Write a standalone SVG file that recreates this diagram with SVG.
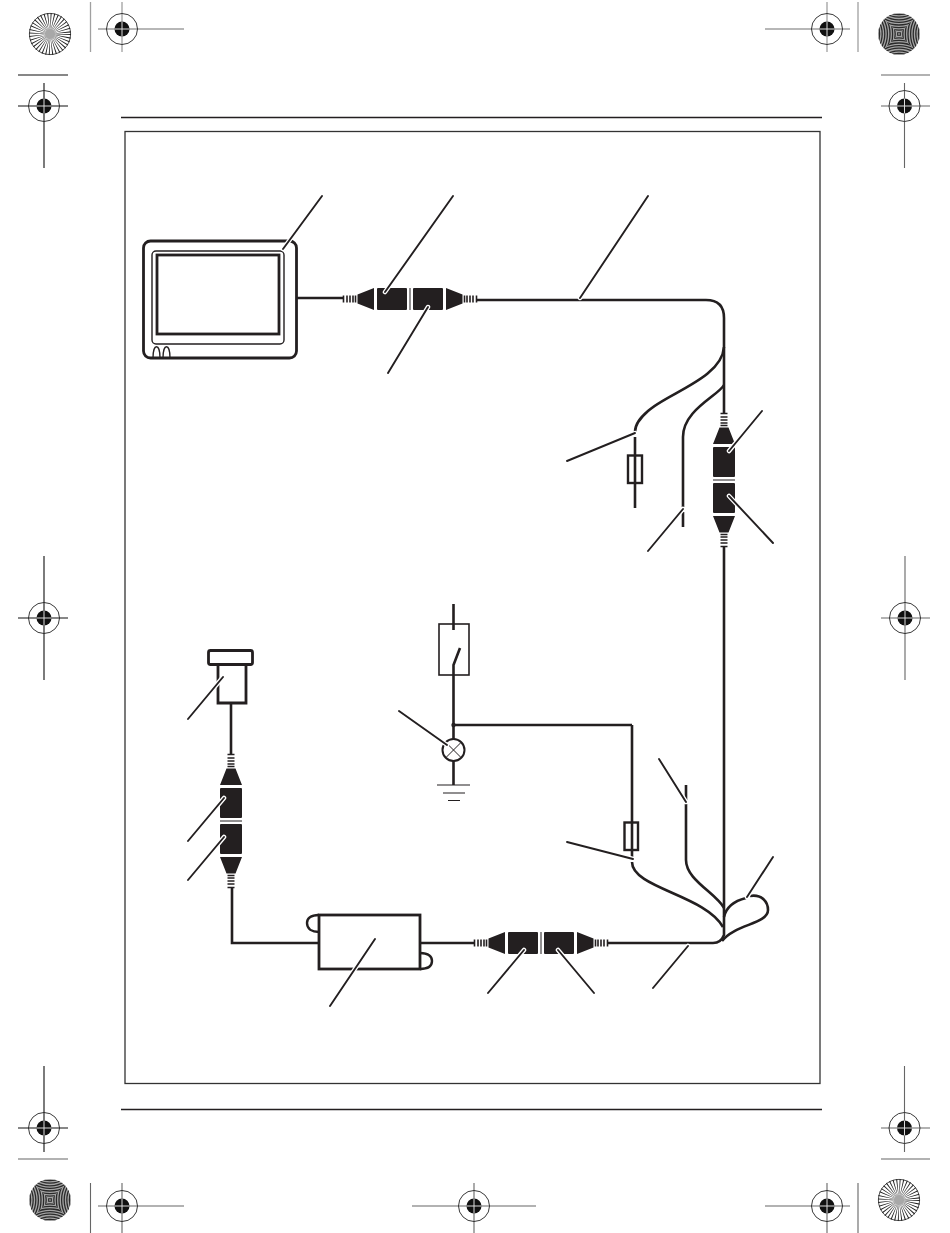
<svg xmlns="http://www.w3.org/2000/svg" xmlns:xlink="http://www.w3.org/1999/xlink" width="950" height="1233" viewBox="0 0 950 1233">
<style>
.w{fill:none;stroke:#231f20;stroke-width:2.600}
.k{fill:#231f20}
.o{fill:#fff;stroke:#231f20;stroke-width:2.800}
.halo{fill:none;stroke:#fff;stroke-width:4.500;stroke-linecap:round}
.ink{fill:none;stroke:#231f20;stroke-width:1.900;stroke-linecap:round}
.r{fill:none;stroke:#231f20;stroke-width:1.400}
.g{stroke:#a0a0a0;stroke-width:1.300;fill:none}
.b{stroke:#111;stroke-width:1.100;fill:none}
.d{stroke:#666;stroke-width:1.100;fill:none}
</style>
<defs>
<g id="ring"><circle r="15.500" fill="none" stroke="#222" stroke-width="0.900"/><circle r="7.500" fill="#111"/><path d="M-7.500 0H7.500M0-7.500V7.500" stroke="#ddd" stroke-width="1"/></g>
<g id="star"><circle r="21" fill="#fff"/><circle r="10.500" fill="none" stroke="#222" stroke-width="21" stroke-dasharray="0.550 1.283"/><circle r="5" fill="#a8a8a8"/><circle r="20.600" fill="none" stroke="#222" stroke-width="0.800"/></g>
<clipPath id="cT"><path d="M0 0L-21-21H21Z"/></clipPath>
<clipPath id="cB"><path d="M0 0L-21 21H21Z"/></clipPath>
<clipPath id="cL"><path d="M0 0L-21-21V21Z"/></clipPath>
<clipPath id="cR"><path d="M0 0L21-21V21Z"/></clipPath>
<clipPath id="cD"><circle r="21"/></clipPath>
<g id="arcs" fill="none" stroke="#2a2a2a" stroke-width="1.300"><circle r="20"/><circle r="22.600"/><circle r="25.200"/><circle r="27.800"/><circle r="30.400"/><circle r="33"/><circle r="35.600"/><circle r="38.200"/><circle r="40.800"/><circle r="43.400"/><circle r="46"/><circle r="48.600"/><circle r="51.200"/><circle r="53.800"/><circle r="56.400"/><circle r="59"/><circle r="61.600"/><circle r="64.200"/></g>
<g id="moire"><g clip-path="url(#cD)"><circle r="21" fill="#a4a4a4"/>
<g clip-path="url(#cT)"><use xlink:href="#arcs" href="#arcs" y="-42"/></g>
<g clip-path="url(#cB)"><use xlink:href="#arcs" href="#arcs" y="42"/></g>
<g clip-path="url(#cL)"><use xlink:href="#arcs" href="#arcs" x="-42"/></g>
<g clip-path="url(#cR)"><use xlink:href="#arcs" href="#arcs" x="42"/></g></g></g>
<g id="conn"><path class="k" d="M-52.500-4.500-36-11V11L-52.500 4.500ZM52.500-4.500 36-11V11L52.500 4.500Z"/><rect class="k" x="-33" y="-11" width="30" height="22" rx="1"/><rect class="k" x="3" y="-11" width="30" height="22" rx="1"/><path stroke="#231f20" stroke-width="1" d="M0-11V11"/><path fill="none" stroke="#231f20" stroke-width="1.600" d="M-66.500-3.500V3.500M-63-3.500V3.500M-60-3.500V3.500M-57-3.500V3.500M-54.500-3.500V3.500M66.500-3.500V3.500M63-3.500V3.500M60-3.500V3.500M57-3.500V3.500M54.500-3.500V3.500"/></g>
<path id="lead" d="M322 196 283 249M453 196 385 292M648 196 580 298M388 373 428 307M567 461 635 433M648 551 683 509M762 411 729 451M773 543 729 496M399 711 447 745M567 842 633 859M659 759 686 802M773 857 747 897M653 988 688 946M594 993 558 950M488 993 524 950M330 1006 375 939M188 719 223 677M188 841 224 798M188 880 224 837"/>
</defs>

<g id="printer-marks">
<use href="#star" x="50" y="34"/>
<use href="#moire" x="899" y="34"/>
<use href="#moire" x="50" y="1200"/>
<use href="#star" x="899" y="1200"/>
<path class="g" d="M90.500 2V52M98 29H184M122 2V52M765 29H850M827 2V52M858 2V52"/>
<path class="b" d="M18 75H68M18 106H68M44 83V168M18 618H68M44 556V680M18 1128H68M44 1066V1152"/>
<path class="d" d="M881 75H930M881 106H930M904.500 83V168M881 618H930M905 556V680M881 1128H930M904.500 1066V1152M18 1159H68M881 1159H930"/>
<path class="d" d="M90.500 1183V1233M98 1206H184M122 1183V1233M412 1206H536M474 1183V1233M765 1206H850M827 1183V1233M858 1183V1233"/>
<use href="#ring" x="122" y="29"/><use href="#ring" x="827" y="29"/><use href="#ring" x="44" y="106"/><use href="#ring" x="904.500" y="106"/>
<use href="#ring" x="44" y="618"/><use href="#ring" x="905" y="618"/><use href="#ring" x="44" y="1128"/><use href="#ring" x="904.500" y="1128"/>
<use href="#ring" x="122" y="1206"/><use href="#ring" x="474" y="1206"/><use href="#ring" x="827" y="1206"/>
</g>

<g id="page-frame">
<path class="r" d="M121 117.500H822M121 1109.500H822"/>
<rect x="125" y="131.500" width="695" height="952" fill="none" stroke="#333" stroke-width="1.300"/>
</g>

<g id="connectors">
<path class="w" d="M297 298H343"/>
<path class="w" d="M476 300H706Q724 300 724 318V414"/>
<path class="w" d="M724 347C722 378 668 393 648 411C640 418 635 424 635 432M635 437V508"/>
<path class="w" d="M724 385C718 396 683 410 683 437V507M683 512V527"/>
<path class="w" d="M724 546V935Q721 943 713 943H608"/>
<path class="w" d="M632 725V857M632 862C632 888 705 895 723 927"/>
<path class="w" d="M686 785V800M686 804V860C686 880 716 893 724 908"/>
<path class="w" d="M724 917C726 908 734 901 746 898M750 896C762 894 768 902 768 910C768 924 735 924 722 941"/>
<path class="w" d="M475 943H420M319 943H232V888"/>
<path class="w" d="M231 755V703"/>
<path class="w" d="M453.500 604V630M460 648 453.500 665V740M453.500 725H632M453.500 761V785"/>
</g>

<g id="monitor">
<rect class="o" x="143.500" y="241" width="153" height="117" rx="7"/>
<rect x="152" y="251" width="132" height="93" rx="4" fill="#fff" stroke="#231f20" stroke-width="1.400"/>
<rect x="157" y="255" width="122" height="79" fill="#fff" stroke="#231f20" stroke-width="2.800"/>
<path fill="none" stroke="#231f20" stroke-width="1.300" d="M153 358C153 343 160 343 160 358M163 358C163 343 170 343 170 358"/>
</g>
<g id="connector-top"><use href="#conn" x="410" y="299"/></g>
<g id="connector-right"><use href="#conn" transform="translate(724 480) rotate(90)"/></g>
<g id="connector-left"><use href="#conn" transform="translate(231 821) rotate(90)"/></g>
<g id="connector-bottom"><use href="#conn" x="541" y="943"/></g>
<g id="fuse-upper"><rect x="628" y="455.500" width="14" height="27.500" fill="none" stroke="#231f20" stroke-width="2.400"/></g>
<g id="fuse-lower"><rect x="624.500" y="822.500" width="13.500" height="27.500" fill="none" stroke="#231f20" stroke-width="2.400"/></g>
<g id="switch"><rect x="439" y="624" width="30" height="51" fill="none" stroke="#231f20" stroke-width="1.600"/></g>
<g id="lamp"><circle cx="453.500" cy="750" r="11" fill="#fff" stroke="#231f20" stroke-width="2"/><path stroke="#231f20" stroke-width="1" d="M445.700 742.200 461.300 757.800M461.300 742.200 445.700 757.800"/><circle class="k" cx="453.500" cy="725" r="2.200"/></g>
<g id="ground"><path fill="none" stroke="#231f20" stroke-width="1.200" d="M437 785H470M443 793H465M448 800.500H460"/></g>
<g id="plug"><path class="o" d="M218 665V703H246V665"/><rect class="o" x="208.500" y="650.500" width="44" height="14" rx="2"/></g>
<g id="converter"><path fill="none" stroke="#231f20" stroke-width="2.400" d="M319 915C310 915 307 919 307 923C307 929 312 932 319 932M420 953C429 953 432 957 432 961C432 966 428 969 420 969"/><rect x="319" y="915" width="101" height="54" fill="#fff" stroke="#231f20" stroke-width="2.800"/></g>

<g id="leaders">
<use href="#lead" class="halo"/>
<use href="#lead" class="ink"/>
</g>
</svg>
